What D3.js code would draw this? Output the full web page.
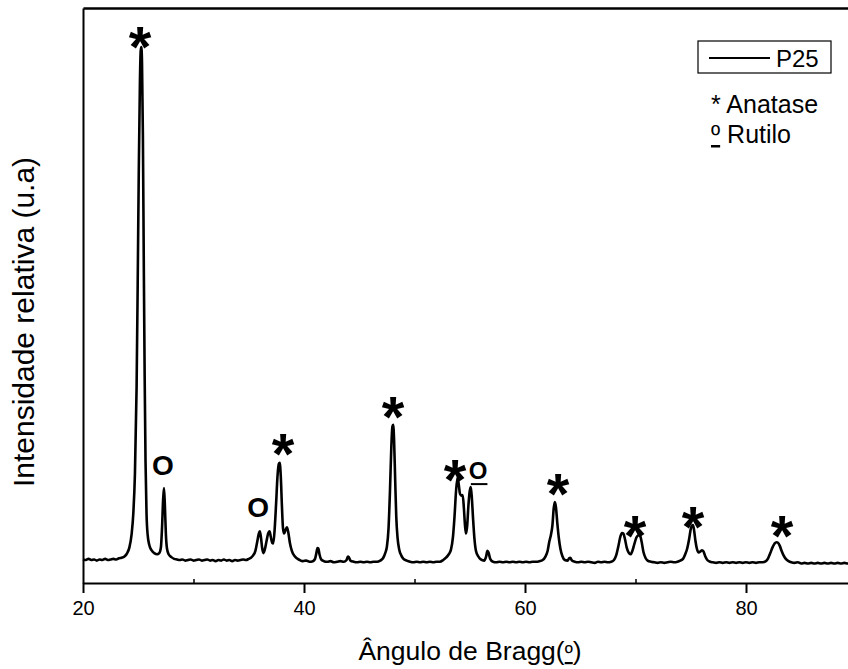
<!DOCTYPE html>
<html>
<head>
<meta charset="utf-8">
<script src="https://cdn.jsdelivr.net/npm/d3@7"></script>
<style>
  html, body { margin: 0; padding: 0; background: #fff; }
  svg { display: block; }
  text { font-family: "Liberation Sans", Arial, Helvetica, sans-serif; fill: #000; }
  .ord { text-decoration: underline; text-underline-offset: -3px; text-decoration-thickness: 1.5px; }
</style>
</head>
<body>
<svg id="chart" width="848" height="669"></svg>
<script>
// P25 diffractogram: [2θ (degrees), relative intensity (a.u.)]
const p25 = [
  [20.0,41],[20.25,40],[20.5,42],[20.75,40],[21.0,41],[21.25,39],[21.5,41],[21.75,40],
  [22.0,42],[22.25,40],[22.5,41],[22.75,42],[23.0,41],[23.25,43],[23.5,44],[23.75,46],
  [24.0,52],[24.2,62],[24.4,85],[24.55,120],[24.7,190],[24.85,340],[24.95,520],[25.05,720],
  [25.15,870],[25.22,925],[25.28,932],[25.34,905],[25.42,780],[25.5,560],[25.58,360],[25.66,210],
  [25.75,120],[25.85,84],[26.0,66],[26.2,57],[26.45,52],[26.7,50],[26.9,52],[27.05,62],
  [27.15,95],[27.25,145],[27.33,165],[27.41,135],[27.5,85],[27.6,60],[27.75,50],[28.0,45],
  [28.25,42],[28.5,41],[28.75,40],[29.0,41],[29.25,39],[29.5,40],[29.75,41],[30.0,39],
  [30.25,40],[30.5,41],[30.75,39],[31.0,40],[31.25,41],[31.5,39],[31.75,40],[32.0,38],
  [32.25,40],[32.5,39],[32.75,41],[33.0,39],[33.25,40],[33.5,38],[33.75,40],[34.0,39],
  [34.25,40],[34.5,41],[34.75,40],[35.0,42],[35.2,44],[35.4,48],[35.6,56],[35.75,70],
  [35.9,85],[36.0,90],[36.1,80],[36.22,60],[36.33,52],[36.45,58],[36.6,72],[36.75,86],
  [36.88,90],[37.0,80],[37.12,70],[37.22,69],[37.35,95],[37.48,140],[37.6,185],[37.72,207],
  [37.8,209],[37.9,185],[38.0,135],[38.1,95],[38.2,86],[38.32,92],[38.45,97],[38.58,88],
  [38.72,70],[38.9,56],[39.1,48],[39.35,43],[39.6,40],[39.9,38],[40.2,39],[40.5,37],
  [40.8,38],[41.0,42],[41.12,52],[41.22,61],[41.3,60],[41.4,50],[41.55,41],[41.8,38],
  [42.1,37],[42.4,38],[42.7,36],[43.0,37],[43.3,38],[43.6,37],[43.85,40],[43.97,46],
  [44.05,45],[44.2,39],[44.5,37],[44.8,36],[45.1,37],[45.4,36],[45.7,37],[46.0,36],
  [46.3,37],[46.6,37],[46.9,39],[47.15,43],[47.35,52],[47.5,63],[47.65,95],[47.78,160],
  [47.9,235],[48.0,272],[48.07,275],[48.15,250],[48.25,180],[48.35,115],[48.47,78],[48.62,58],
  [48.8,48],[49.0,42],[49.3,39],[49.6,37],[49.9,36],[50.2,37],[50.5,36],[50.8,37],
  [51.1,36],[51.4,37],[51.7,36],[52.0,37],[52.3,37],[52.6,40],[52.85,44],[53.1,50],
  [53.3,58],[53.48,80],[53.62,115],[53.76,160],[53.9,184],[54.0,172],[54.12,155],[54.25,152],
  [54.36,153],[54.47,130],[54.57,100],[54.66,86],[54.76,98],[54.88,135],[55.0,160],[55.1,167],
  [55.2,145],[55.3,112],[55.42,78],[55.56,56],[55.75,47],[56.0,41],[56.3,39],[56.48,46],
  [56.6,56],[56.7,53],[56.85,42],[57.1,37],[57.4,36],[57.7,37],[58.0,36],[58.3,37],
  [58.6,36],[58.9,37],[59.2,36],[59.5,37],[59.8,36],[60.1,37],[60.4,36],[60.7,37],
  [61.0,37],[61.3,38],[61.6,40],[61.85,46],[62.05,56],[62.2,72],[62.35,84],[62.48,100],
  [62.6,130],[62.7,141],[62.8,132],[62.92,105],[63.05,80],[63.2,60],[63.38,47],[63.6,40],
  [63.85,39],[64.0,43],[64.1,44],[64.25,39],[64.5,37],[64.8,36],[65.1,37],[65.4,36],
  [65.7,37],[66.0,36],[66.3,35],[66.6,37],[66.9,36],[67.2,37],[67.5,36],[67.8,37],
  [68.05,40],[68.25,48],[68.45,64],[68.62,80],[68.78,87],[68.9,86],[69.05,76],[69.2,62],
  [69.38,53],[69.55,50],[69.72,56],[69.9,68],[70.08,79],[70.25,83],[70.4,84],[70.55,72],
  [70.72,54],[70.9,44],[71.1,39],[71.4,37],[71.7,36],[72.0,35],[72.3,36],[72.6,35],
  [72.9,36],[73.2,37],[73.5,36],[73.8,37],[74.05,39],[74.3,42],[74.5,50],[74.68,60],
  [74.85,76],[75.0,94],[75.12,100],[75.2,101],[75.3,92],[75.42,74],[75.55,60],[75.72,53],
  [75.88,55],[76.02,57],[76.15,55],[76.3,47],[76.5,40],[76.75,37],[77.0,36],[77.3,35],
  [77.6,36],[77.9,35],[78.2,36],[78.5,35],[78.8,36],[79.1,35],[79.4,36],[79.7,35],
  [80.0,36],[80.3,35],[80.6,36],[80.9,35],[81.2,36],[81.5,36],[81.8,38],[82.0,43],
  [82.2,52],[82.4,62],[82.6,69],[82.75,71],[82.9,70],[83.05,65],[83.2,57],[83.4,48],
  [83.6,42],[83.85,38],[84.1,36],[84.4,35],[84.7,36],[85.0,34],[85.3,35],[85.6,34],
  [85.9,35],[86.2,34],[86.5,35],[86.8,34],[87.1,35],[87.4,34],[87.7,35],[88.0,34],
  [88.3,35],[88.6,34],[88.9,35],[89.2,34],[89.5,35],[89.8,34]
];

// Axis ticks
const xMajorTicks = [20, 40, 60, 80];
const xMinorTicks = [30, 50, 70];

// Phase markers: [2θ, intensity level where the marker sits]
const anataseMarks = [[25.16,956],[38.1,249],[48.05,313],[53.67,204],[62.99,179],[69.95,106],[75.2,122],[83.26,106]];
const rutileMarks = [[27.24,205],[35.84,132]];
const rutileMarksSmall = [[55.75,197]];
const rutileBracket = [[55.1,172],[56.6,172]];

// Legend entries
const seriesName = "P25";
const phaseLegend = [["* ", "Anatase"], ["º", " Rutilo"]];

const svg = d3.select("#chart");

const x = d3.scaleLinear().domain([20, 90]).range([83, 856.5]);
const y = d3.scaleLinear().domain([0, 1000]).range([583, 8]);

// Diffraction curve
const line = d3.line()
  .x(d => x(d[0]))
  .y(d => y(d[1]))
  .curve(d3.curveMonotoneX);

svg.append("path")
  .datum(p25)
  .attr("d", line)
  .attr("fill", "none")
  .attr("stroke", "#000")
  .attr("stroke-width", 2.6)
  .attr("stroke-linejoin", "round");

// Bottom axis with major ticks
const xAxis = svg.append("g")
  .attr("transform", `translate(0,${y(0)})`)
  .call(d3.axisBottom(x).tickValues(xMajorTicks).tickSize(10).tickSizeOuter(0).tickPadding(8));
xAxis.select(".domain").attr("stroke-width", 2);
xAxis.selectAll(".tick line").attr("stroke-width", 2);
xAxis.selectAll(".tick text")
  .style("font-family", '"Liberation Sans", Arial, sans-serif')
  .attr("font-size", 20);

// Minor ticks
const xMinor = svg.append("g")
  .attr("transform", `translate(0,${y(0)})`)
  .call(d3.axisBottom(x).tickValues(xMinorTicks).tickSize(-4).tickSizeOuter(0).tickFormat(""));
xMinor.select(".domain").remove();
xMinor.selectAll(".tick line").attr("stroke-width", 1.5);

// Left axis (no labelled ticks)
const yAxis = svg.append("g")
  .attr("transform", `translate(${x(20)},0)`)
  .call(d3.axisLeft(y).tickValues([]).tickSizeOuter(0));
yAxis.select(".domain").attr("stroke-width", 2);

// Top frame line
const topAxis = svg.append("g")
  .attr("transform", `translate(0,${y(1000)})`)
  .call(d3.axisTop(x).tickValues([]).tickSizeOuter(0));
topAxis.select(".domain").attr("stroke-width", 2.5);

// Axis titles
const xTitle = svg.append("text")
  .attr("x", 470).attr("y", 660)
  .attr("text-anchor", "middle")
  .attr("font-size", 26.5);
xTitle.append("tspan").text("Ângulo de Bragg(");
xTitle.append("tspan").attr("class", "ord").attr("font-size", 22).text("º");
xTitle.append("tspan").text(")");

svg.append("text")
  .attr("transform", "translate(34,322) rotate(-90)")
  .attr("text-anchor", "middle")
  .attr("font-size", 30)
  .text("Intensidade relativa (u.a)");

// Anatase markers
svg.append("g").selectAll("text")
  .data(anataseMarks)
  .join("text")
  .attr("x", d => x(d[0]))
  .attr("y", d => y(d[1]) + 34)
  .attr("text-anchor", "middle")
  .attr("font-size", 58)
  .attr("font-weight", "bold")
  .text("*");

// Rutile markers
svg.append("g").selectAll("text")
  .data(rutileMarks)
  .join("text")
  .attr("x", d => x(d[0]))
  .attr("y", d => y(d[1]) + 10)
  .attr("text-anchor", "middle")
  .attr("font-size", 28)
  .attr("font-weight", "bold")
  .text("O");

svg.append("g").selectAll("text")
  .data(rutileMarksSmall)
  .join("text")
  .attr("x", d => x(d[0]))
  .attr("y", d => y(d[1]) + 9)
  .attr("text-anchor", "middle")
  .attr("font-size", 24)
  .attr("font-weight", "bold")
  .text("O");

svg.append("path")
  .datum(rutileBracket)
  .attr("d", d3.line().x(d => x(d[0])).y(d => y(d[1])))
  .attr("stroke", "#000")
  .attr("stroke-width", 2)
  .attr("fill", "none");

// Legend
const legend = svg.append("g");
legend.append("rect")
  .attr("x", 698).attr("y", 41).attr("width", 133).attr("height", 32)
  .attr("fill", "#fff").attr("stroke", "#000").attr("stroke-width", 1.2);
legend.append("line")
  .attr("x1", 709).attr("x2", 770).attr("y1", 58).attr("y2", 58)
  .attr("stroke", "#000").attr("stroke-width", 2);
legend.append("text")
  .attr("x", 776).attr("y", 67)
  .attr("font-size", 24)
  .text(seriesName);

const phaseRows = legend.selectAll("text.phase")
  .data(phaseLegend)
  .join("text")
  .attr("class", "phase")
  .attr("x", 711)
  .attr("y", (d, i) => 113 + i * 30)
  .attr("font-size", 25);
phaseRows.append("tspan")
  .attr("class", (d, i) => i === 1 ? "ord" : null)
  .text(d => d[0]);
phaseRows.append("tspan").text(d => d[1]);
</script>
</body>
</html>
